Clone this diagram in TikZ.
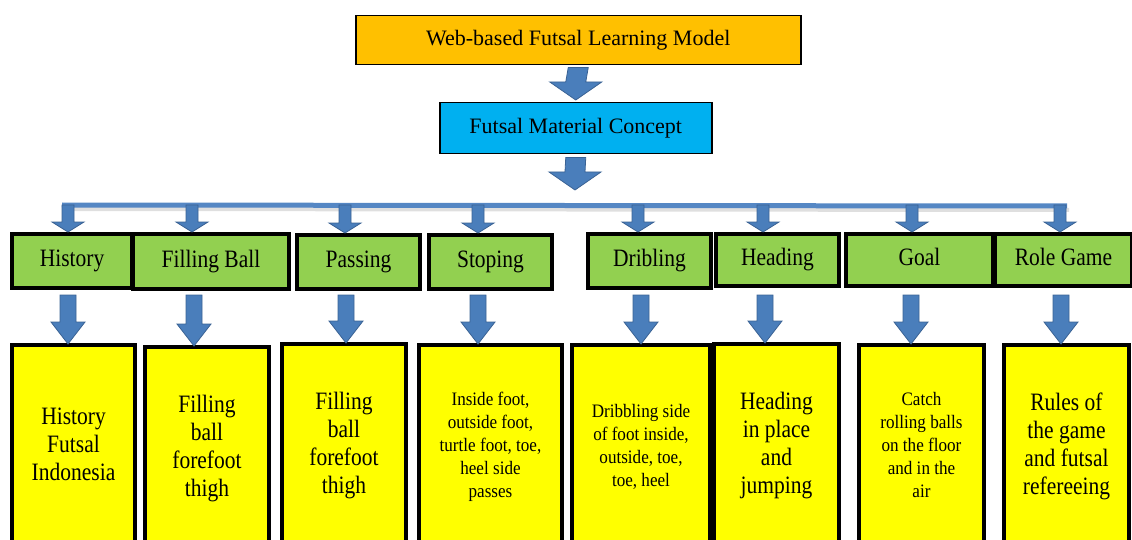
\documentclass[tikz,border=0pt]{standalone}
\usepackage{fontspec}
\setmainfont{Liberation Serif}
\usetikzlibrary{calc}
\definecolor{orangebox}{HTML}{FFC000}
\definecolor{bluebox}{HTML}{00B0F0}
\definecolor{greenbox}{HTML}{92D050}
\definecolor{yellowbox}{HTML}{FFFF00}
\definecolor{arrowfill}{HTML}{4A7EBB}
\definecolor{arrowline}{HTML}{3A6294}
\definecolor{barblue}{HTML}{5587C4}
\newcommand\blkarrow[5]{%
  \draw[blockarrow] ($(#1)+(-#3,0)$) -- ($(#2)+(-#3,-#5)$) -- ($(#2)+(-#4,-#5)$) -- (#2)
    -- ($(#2)+(#4,-#5)$) -- ($(#2)+(#3,-#5)$) -- ($(#1)+(#3,0)$) -- cycle;}
\newcommand\sqz[2]{\scalebox{#1}[1]{\begin{tabular}{@{}c@{}}#2\end{tabular}}}
\begin{document}
\begin{tikzpicture}[x=1pt,y=-1pt,
  topbox/.style={draw=black,line width=1.5pt,anchor=north west,inner sep=0pt,
    font=\rmfamily\fontsize{22}{27}\selectfont},
  greenstyle/.style={draw=black,fill=greenbox,line width=4pt,anchor=north west,inner sep=0pt,
    minimum height=54pt,font=\rmfamily\fontsize{25}{28}\selectfont},
  yellowstyle/.style={draw=black,fill=yellowbox,line width=4pt,anchor=north west,inner sep=0pt,
    minimum height=204pt,align=center},
  bigtxt/.style={font=\rmfamily\fontsize{25}{28}\selectfont},
  smalltxt/.style={font=\rmfamily\fontsize{19}{23}\selectfont},
  blockarrow/.style={fill=arrowfill,draw=arrowline,line width=0.8pt,line join=miter},
  barline/.style={draw=barblue,line width=5pt}]
\useasboundingbox (0,0) rectangle (1132,540);

% top boxes
\node[topbox,fill=orangebox,minimum width=445pt,minimum height=49pt] (model) at (355,15) {Web-based Futsal Learning Model};
\node[topbox,fill=bluebox,minimum width=272pt,minimum height=51pt] (concept) at (439,102) {Futsal Material Concept};

% bar
\coordinate (barL) at (62,205);
\coordinate (barR) at (1067,206);
\draw[draw=gray!25,line width=4pt] ($(barL)+(2,4)$) -- ($(barR)+(2,4)$);
\draw[barline] (barL) -- (barR);

% arrows between top boxes
\coordinate (a0t) at (575,190);
\blkarrow{$(model.south)+(0,2)$}{$(concept.north)+(0,-2)$}{10}{26}{18}
\blkarrow{$(concept.south)+(0,3)$}{a0t}{10}{26}{18}

% green boxes
\node[greenstyle,minimum width=120pt] (g1) at (10,232) {\sqz{0.86}{History}};
\node[greenstyle,minimum width=156pt,minimum height=55pt] (g2) at (131,232) {\sqz{0.86}{Filling Ball}};
\node[greenstyle,minimum width=123pt] (g3) at (295,233) {\sqz{0.86}{Passing}};
\node[greenstyle,minimum width=123pt] (g4) at (427,233) {\sqz{0.86}{Stoping}};
\node[greenstyle,minimum width=123pt] (g5) at (586,232) {\sqz{0.86}{Dribling}};
\node[greenstyle,minimum width=123pt,minimum height=52pt] (g6) at (714,232) {\sqz{0.86}{Heading}};
\node[greenstyle,minimum width=147pt,minimum height=52pt] (g7) at (844,232) {\sqz{0.86}{Goal}};
\node[greenstyle,minimum width=137pt,minimum height=52pt] (g8) at (993,232) {\sqz{0.86}{Role Game}};

% yellow boxes
\node[yellowstyle,bigtxt,minimum width=123pt] (y1) at (10,343) {\sqz{0.86}{History\\Futsal\\Indonesia}};
\node[yellowstyle,bigtxt,minimum width=124pt] (y2) at (143,345) {\sqz{0.86}{Filling\\ball\\forefoot\\thigh}};
\node[yellowstyle,bigtxt,minimum width=124pt] (y3) at (280,342) {\sqz{0.86}{Filling\\ball\\forefoot\\thigh}};
\node[yellowstyle,smalltxt,minimum width=143pt] (y4) at (417,343) {\sqz{0.9}{Inside foot,\\outside foot,\\turtle foot, toe,\\heel side\\passes}};
\node[yellowstyle,smalltxt,minimum width=138pt] (y5) at (570,343) {\sqz{0.9}{Dribbling side\\of foot inside,\\outside, toe,\\toe, heel}};
\node[yellowstyle,bigtxt,minimum width=125pt] (y6) at (712,342) {\sqz{0.86}{Heading\\in place\\and\\jumping}};
\node[yellowstyle,smalltxt,minimum width=125pt] (y7) at (857,343) {\sqz{0.9}{Catch\\rolling balls\\on the floor\\and in the\\air}};
\node[yellowstyle,bigtxt,minimum width=125pt] (y8) at (1002,343) {\sqz{0.86}{Rules of\\the game\\and futsal\\refereeing}};

% arrows from bar to green boxes
\foreach \i/\xx in {1/68,2/192,3/345,4/478,5/638,6/763,7/912,8/1060}{
  \coordinate (b\i) at (\xx,205);
  \coordinate (bt\i) at (b\i |- g\i.north);
  \blkarrow{b\i}{bt\i}{6}{16}{10}
}
% arrows from green to yellow boxes
\foreach \i/\xx in {1/68,2/194,3/346,4/478,5/641,6/765,7/911,8/1061}{
  \coordinate (c\i) at (\xx,295);
  \coordinate (ct\i) at ($(c\i |- y\i.north)+(0,1)$);
  \blkarrow{c\i}{ct\i}{8}{17}{22}
}
\end{tikzpicture}
\end{document}
